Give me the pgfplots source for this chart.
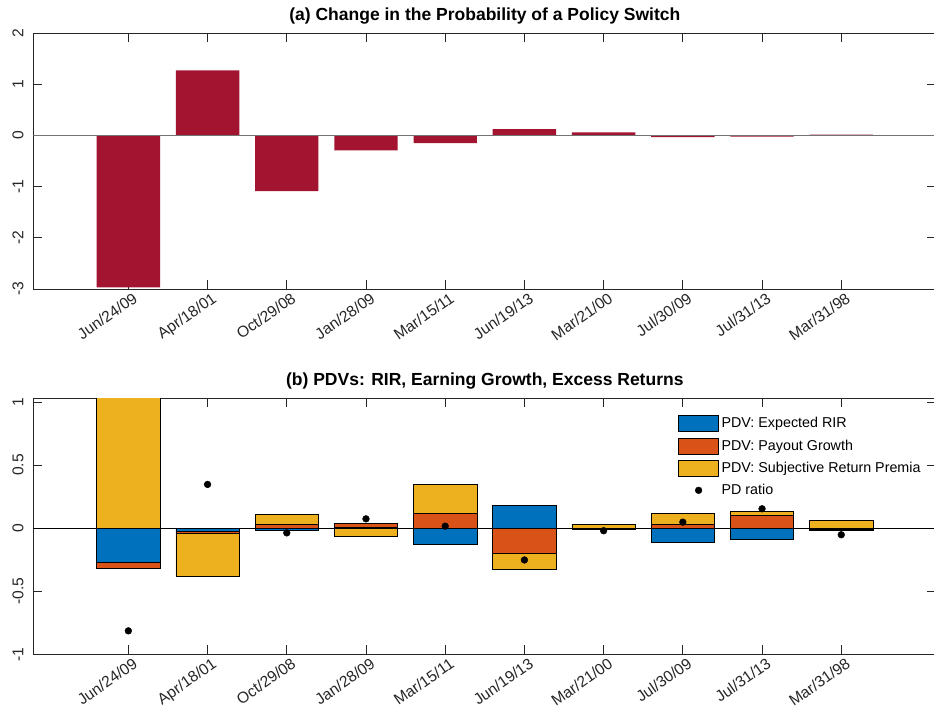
\documentclass[border=0pt]{standalone}
\usepackage{fontspec}
\setmainfont{Liberation Sans}
\usepackage{pgfplots}
\usepackage{pgfplotstable}
\pgfplotsset{compat=1.18}
\definecolor{mblue}{RGB}{0,114,189}
\definecolor{mred}{RGB}{217,83,25}
\definecolor{myellow}{RGB}{237,177,32}
\definecolor{crimson}{RGB}{162,20,47}

\pgfplotstableread{
x rir pay sub pd
1 -0.270 -0.045 1.200 -0.814
2 -0.027 -0.013 -0.345 0.347
3 -0.019 0.029 0.077 -0.037
4 0.008 0.032 -0.064 0.074
5 -0.127 0.117 0.230 0.016
6 0.178 -0.200 -0.129 -0.252
7 -0.006 -0.004 0.032 -0.020
8 -0.111 0.029 0.088 0.048
9 -0.085 0.098 0.035 0.154
10 -0.010 -0.006 0.061 -0.052
}\pdv

\pgfplotsset{
  geom/.style={scale only axis, width=903pt, height=256pt,
    xmin=-0.2, xmax=11.2, enlargelimits=false, anchor=north west},
  frame/.style={geom,
    axis line style={black!85, line width=0.8pt},
    tick style={black!85, line width=0.8pt},
    major tick length=9pt, tick align=inside,
    xtick={1,...,10},
    xticklabels={Jun/24/09,Apr/18/01,Oct/29/08,Jan/28/09,Mar/15/11,Jun/19/13,Mar/21/00,Jul/30/09,Jul/31/13,Mar/31/98},
    ticklabel style={font=\fontsize{15.6}{18}\selectfont, text=black!85},
    xticklabel style={inner sep=0pt, xshift=3.6pt, yshift=-2.5pt, rotate=35, anchor=north east},
    yticklabel style={inner sep=0pt, xshift=-10pt, rotate=90, anchor=base},
    title style={font=\fontsize{17.5}{20}\selectfont\bfseries, at={(0.5,1)}, anchor=base, yshift=6.5pt, inner sep=0pt},
  },
  ovl/.style={geom, hide axis},
  limg/.style={legend image code/.code={\path[draw=none,fill=none] (0pt,-8pt) rectangle (43pt,8pt); \draw[fill=#1,draw=black,line width=0.7pt] (0pt,-8pt) rectangle (40pt,8pt);}},
}

\begin{document}
\begin{tikzpicture}
\useasboundingbox (0,0) rectangle (934pt,721pt);

% ---------- panel (a) ----------
\begin{axis}[frame, at={(33.3pt,688pt)},
  ymin=-3, ymax=2, ytick={-3,-2,-1,0,1,2}, yticklabels={-3,-2,-1,0,1,2},
  title={(a) Change in the Probability of a Policy Switch}]
\addplot[ybar, bar width=0.8, bar shift=0pt, fill=crimson, draw=none]
  coordinates {(1,-2.97) (2,1.27) (3,-1.09) (4,-0.293) (5,-0.15) (6,0.124) (7,0.059) (8,-0.033) (9,-0.026) (10,0.013)};
\addplot[black!55, line width=0.8pt] coordinates {(-0.2,0) (11.2,0)};
\end{axis}

% ---------- panel (b): frame + positive stack ----------
\begin{axis}[frame, at={(33.3pt,322.7pt)},
  ymin=-1, ymax=1.03, ytick={-1,-0.5,0,0.5,1}, yticklabels={-1,-0.5,0,0.5,1},
  title={(b) PDVs: RIR, Earning Growth, Excess Returns},
  ybar stacked, bar width=0.8, bar shift=0pt]
\addplot[fill=mblue, draw=black, line width=0.7pt] table[x=x, y expr={max(\thisrow{rir},0)}] {\pdv};
\addplot[fill=mred, draw=black, line width=0.7pt] table[x=x, y expr={max(\thisrow{pay},0)}] {\pdv};
\addplot[fill=myellow, draw=black, line width=0.7pt] table[x=x, y expr={max(\thisrow{sub},0)}] {\pdv};
\end{axis}

% ---------- panel (b): negative stack ----------
\begin{axis}[ovl, at={(33.3pt,322.7pt)}, ymin=-1, ymax=1.03,
  ybar stacked, bar width=0.8, bar shift=0pt]
\addplot[fill=mblue, draw=black, line width=0.7pt] table[x=x, y expr={min(\thisrow{rir},0)}] {\pdv};
\addplot[fill=mred, draw=black, line width=0.7pt] table[x=x, y expr={min(\thisrow{pay},0)}] {\pdv};
\addplot[fill=myellow, draw=black, line width=0.7pt] table[x=x, y expr={min(\thisrow{sub},0)}] {\pdv};
\end{axis}

% ---------- panel (b): zero line, dots, legend ----------
\begin{axis}[ovl, at={(33.3pt,322.7pt)}, ymin=-1, ymax=1.03,
  legend style={draw=none, fill=none, at={(axis description cs:0.714,0.935)}, anchor=north west,
    inner sep=0pt, row sep=5.7pt, nodes={inner sep=0pt},
    font=\fontsize{14.3}{16}\selectfont},
  legend cell align=left]
\addlegendimage{limg=mblue}
\addlegendentry{PDV: Expected RIR}
\addlegendimage{limg=mred}
\addlegendentry{PDV: Payout Growth}
\addlegendimage{limg=myellow}
\addlegendentry{PDV: Subjective Return Premia}
\addlegendimage{legend image code/.code={\path[draw=none,fill=none] (0pt,-8pt) rectangle (43pt,8pt); \fill[black] (20pt,0pt) circle (3.4pt);}}
\addlegendentry{PD ratio}
\addplot[black, line width=0.7pt, forget plot] coordinates {(-0.2,0) (11.2,0)};
\addplot[only marks, mark=*, mark size=3.4pt, black, forget plot] table[x=x, y=pd] {\pdv};
\end{axis}
\end{tikzpicture}
\end{document}
